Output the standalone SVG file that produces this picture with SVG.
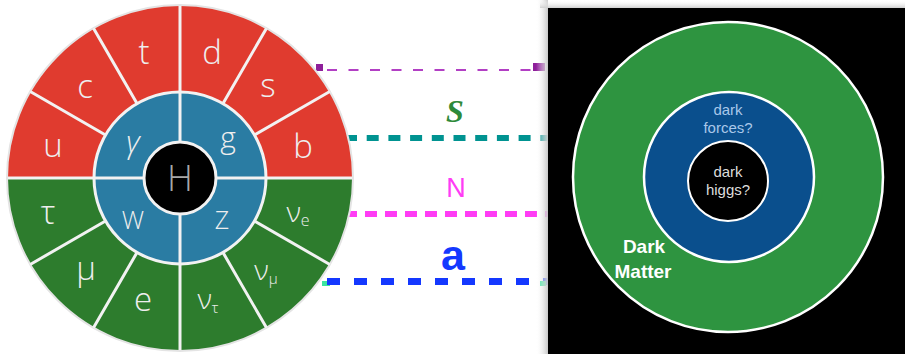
<svg xmlns="http://www.w3.org/2000/svg" width="905" height="354" viewBox="0 0 905 354">
<defs>
<style>
.lbl{font-family:"Open Sans","Liberation Sans",sans-serif;fill:#eeeeee;text-anchor:middle;font-weight:300}
.big{font-size:33px}
.mid{font-size:25px}
.sep{stroke:#f2f2f2;stroke-width:3;fill:none}
.dm{font-family:"Liberation Sans",Arial,sans-serif;text-anchor:middle}
</style>
<linearGradient id="shL" x1="0" y1="0" x2="1" y2="0">
<stop offset="0" stop-color="#ffffff" stop-opacity="0"/>
<stop offset="1" stop-color="#c8c8c8"/>
</linearGradient>
<linearGradient id="shT" x1="0" y1="0" x2="0" y2="1">
<stop offset="0" stop-color="#ffffff" stop-opacity="0"/>
<stop offset="1" stop-color="#d0d0d0"/>
</linearGradient>
</defs>
<rect x="0" y="0" width="905" height="354" fill="#ffffff"/>

<g id="connectors">
<rect x="316" y="64" width="7" height="7" fill="#8e1f9a"/>
<line x1="327" y1="70" x2="533" y2="70" stroke="#b23fc4" stroke-width="2" stroke-dasharray="10 11.5"/>
<rect x="533" y="63" width="12" height="8" fill="#8e1f9a"/>
<line x1="345" y1="138" x2="548" y2="138" stroke="#009391" stroke-width="6" stroke-dasharray="12 9.7"/>
<line x1="345" y1="214" x2="548" y2="214" stroke="#ff3cf5" stroke-width="6" stroke-dasharray="12 8"/>
<rect x="322" y="281" width="8" height="5" fill="#3be5a0"/>
<line x1="327" y1="281.5" x2="548" y2="281.5" stroke="#1438ff" stroke-width="7" stroke-dasharray="13 14"/>
<rect x="540" y="281" width="6" height="5" fill="#3be5a0"/>
<text x="455" y="122" font-family="Liberation Serif,serif" font-style="italic" font-weight="bold" font-size="32" fill="#2e8a3a" text-anchor="middle">S</text>
<text x="456" y="197" font-family="Liberation Sans,Arial,sans-serif" font-size="27" fill="#ff3cf5" text-anchor="middle">N</text>
<text x="453" y="270" font-family="Liberation Sans,Arial,sans-serif" font-weight="bold" font-size="43" fill="#1438ff" text-anchor="middle">a</text>
</g>

<g id="sm-wheel">
<path d="M7 178 A173 173 0 0 1 353 178 Z" fill="#e03b2f"/>
<path d="M7 178 A173 173 0 0 0 353 178 Z" fill="#2d7c2d"/>
<circle cx="180" cy="178" r="173" fill="none" stroke="#e4e4e4" stroke-width="2"/>
<circle cx="180" cy="178" r="86" fill="#2a7ca3" stroke="#f2f2f2" stroke-width="3"/>
<path class="sep" d="M254.5 135L329.8 91.5M223 103.5L266.5 28.2M137 103.5L93.5 28.2M105.5 135L30.2 91.5M105.5 221L30.2 264.5M137 252.5L93.5 327.8M223 252.5L266.5 327.8M254.5 221L329.8 264.5M8 178H352M180 6V350"/>
<circle cx="180" cy="178" r="36" fill="#000000" stroke="#f2f2f2" stroke-width="3"/>
<text class="lbl" x="180" y="191" font-size="36" style="fill:#a8a8a8">H</text>
<text class="lbl big" x="53" y="157">u</text>
<text class="lbl big" x="85" y="98">c</text>
<text class="lbl big" x="144" y="64">t</text>
<text class="lbl big" x="212" y="64">d</text>
<text class="lbl big" x="268" y="97">s</text>
<text class="lbl big" x="303" y="158">b</text>
<text class="lbl big" x="48" y="224">τ</text>
<text class="lbl big" x="86" y="280">μ</text>
<text class="lbl big" x="143" y="311">e</text>
<text class="lbl" x="208" y="309" font-size="28">ν<tspan font-size="15" dy="4">τ</tspan></text>
<text class="lbl" x="266" y="280" font-size="28">ν<tspan font-size="15" dy="4">μ</tspan></text>
<text class="lbl" x="298" y="222" font-size="28">ν<tspan font-size="16" dy="4">e</tspan></text>
<text class="lbl" x="133" y="153" font-size="31" font-style="italic">γ</text>
<text class="lbl" x="228" y="148" font-size="30">g</text>
<text class="lbl mid" x="133" y="229">W</text>
<text class="lbl mid" x="222" y="229">Z</text>
</g>

<g id="dark-panel">
<rect x="536" y="0" width="12" height="354" fill="url(#shL)"/>
<rect x="540" y="0" width="365" height="8" fill="url(#shT)"/>
<rect x="548" y="8" width="357" height="346" fill="#000000"/>
<circle cx="728" cy="177" r="155" fill="#2e9440" stroke="#ffffff" stroke-width="2.5"/>
<circle cx="729" cy="177" r="85" fill="#0a4f8d" stroke="#ffffff" stroke-width="2.5"/>
<circle cx="728" cy="181" r="40" fill="#000000" stroke="#ffffff" stroke-width="2"/>
<text class="dm" x="728" y="115" font-size="15" fill="#a9c8ea">dark</text>
<text class="dm" x="728" y="133" font-size="15" fill="#a9c8ea">forces?</text>
<text class="dm" x="728" y="177" font-size="15" fill="#dddddd">dark</text>
<text class="dm" x="728" y="195" font-size="15" fill="#dddddd">higgs?</text>
<text class="dm" x="644" y="253" font-size="19" font-weight="bold" fill="#ffffff">Dark</text>
<text class="dm" x="643" y="278" font-size="19" font-weight="bold" fill="#ffffff">Matter</text>
</g>
</svg>
